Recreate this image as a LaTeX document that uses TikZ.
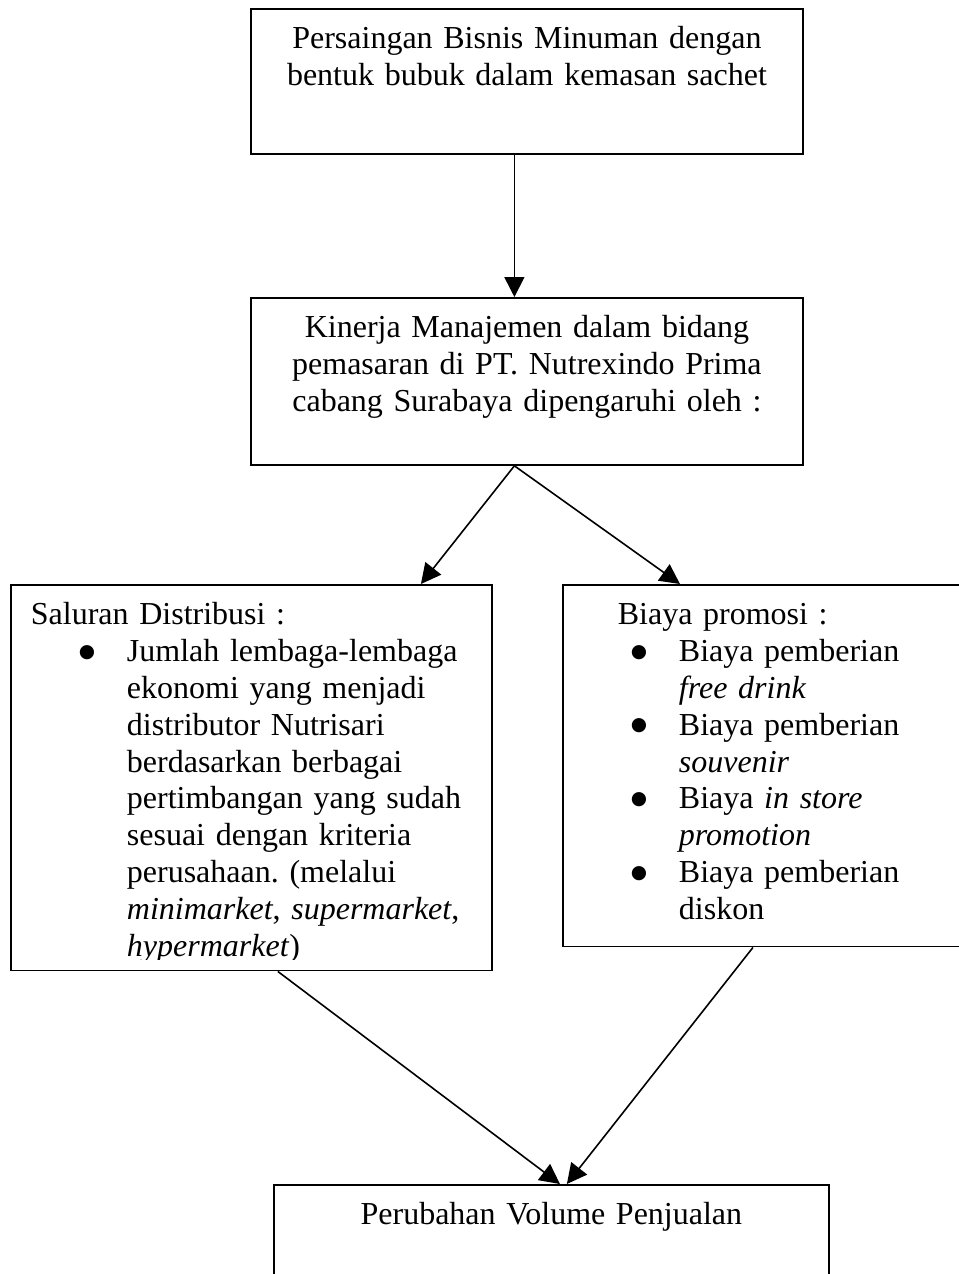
\documentclass[tikz,border=0pt]{standalone}
\usepackage{fontspec}
\setmainfont{Liberation Serif}
\newfontfamily\dotfont{DejaVu Sans}
\usetikzlibrary{arrows.meta}
\frenchspacing
\newcommand{\bul}{\makebox[43.5pt][l]{\hspace*{28.5pt}\makebox[0pt]{\raisebox{1.7pt}{\dotfont\fontsize{7pt}{8pt}\selectfont ●}}}}
\newcommand{\ind}{\hspace*{43.5pt}}
\begin{document}
\begin{tikzpicture}[x=0.375pt,y=-0.375pt,
  box/.style={draw,line width=0.7pt,inner sep=0pt,anchor=north west,
    text height=15pt,font=\fontsize{12pt}{13.8pt}\selectfont},
  arr/.style={-{Triangle[length=7.5pt,width=7.5pt]},line width=0.6pt}]
  \useasboundingbox (0,0) rectangle (959,1274);
  \node[box,text width=207pt,text depth=39.4pt,align=center] (comp) at (250,8)
    {Persaingan Bisnis Minuman dengan\\ bentuk bubuk dalam kemasan sachet};
  \node[box,text width=207pt,text depth=47.6pt,align=center] (kin) at (250,297)
    {Kinerja Manajemen dalam bidang\\ pemasaran di PT. Nutrexindo Prima\\
     cabang Surabaya dipengaruhi oleh :};
  \node[box,text width=180.4pt,text depth=129.6pt,align=left] (dist) at (10,584)
    {\hspace*{7.5pt}Saluran Distribusi :\\
     \bul Jumlah lembaga-lembaga\\ \ind ekonomi yang menjadi\\
     \ind distributor Nutrisari\\ \ind berdasarkan berbagai\\
     \ind pertimbangan yang sudah\\ \ind sesuai dengan kriteria\\
     \ind perusahaan. (melalui\\
     \ind \textit{minimarket}, \textit{supermarket},\\ \ind \textit{hypermarket})};
  % text box cuts the last line
  \fill[white] ([xshift=0.8pt,yshift=0.8pt]dist.south west)
    rectangle ([xshift=-0.8pt,yshift=4.3pt]dist.south east);
  \node[box,text width=150pt,text depth=120.6pt,align=left] (promo) at (562,584)
    {\hspace*{20.6pt}Biaya promosi :\\
     \bul Biaya pemberian\\ \ind \textit{free drink}\\
     \bul Biaya pemberian\\ \ind \textit{souvenir}\\
     \bul Biaya \textit{in store}\\ \ind \textit{promotion}\\
     \bul Biaya pemberian\\ \ind diskon};
  \node[box,text width=208.1pt,text depth=28.5pt,align=center] (vol) at (273,1184)
    {Perubahan Volume Penjualan};
  \draw[arr] ([xshift=-4.7pt]comp.south) -- ([xshift=-4.7pt]kin.north);
  \draw[arr] ([xshift=-4.7pt]kin.south) -- ([xshift=-27pt]dist.north east);
  \draw[arr] ([xshift=-4.7pt]kin.south) -- ([xshift=44.25pt]promo.north west);
  \draw[arr] ([xshift=9.9pt]dist.south) -- ([xshift=3.2pt]vol.north);
  \draw[arr] ([xshift=71.6pt]promo.south west) -- ([xshift=5.8pt]vol.north);
\end{tikzpicture}
\end{document}
